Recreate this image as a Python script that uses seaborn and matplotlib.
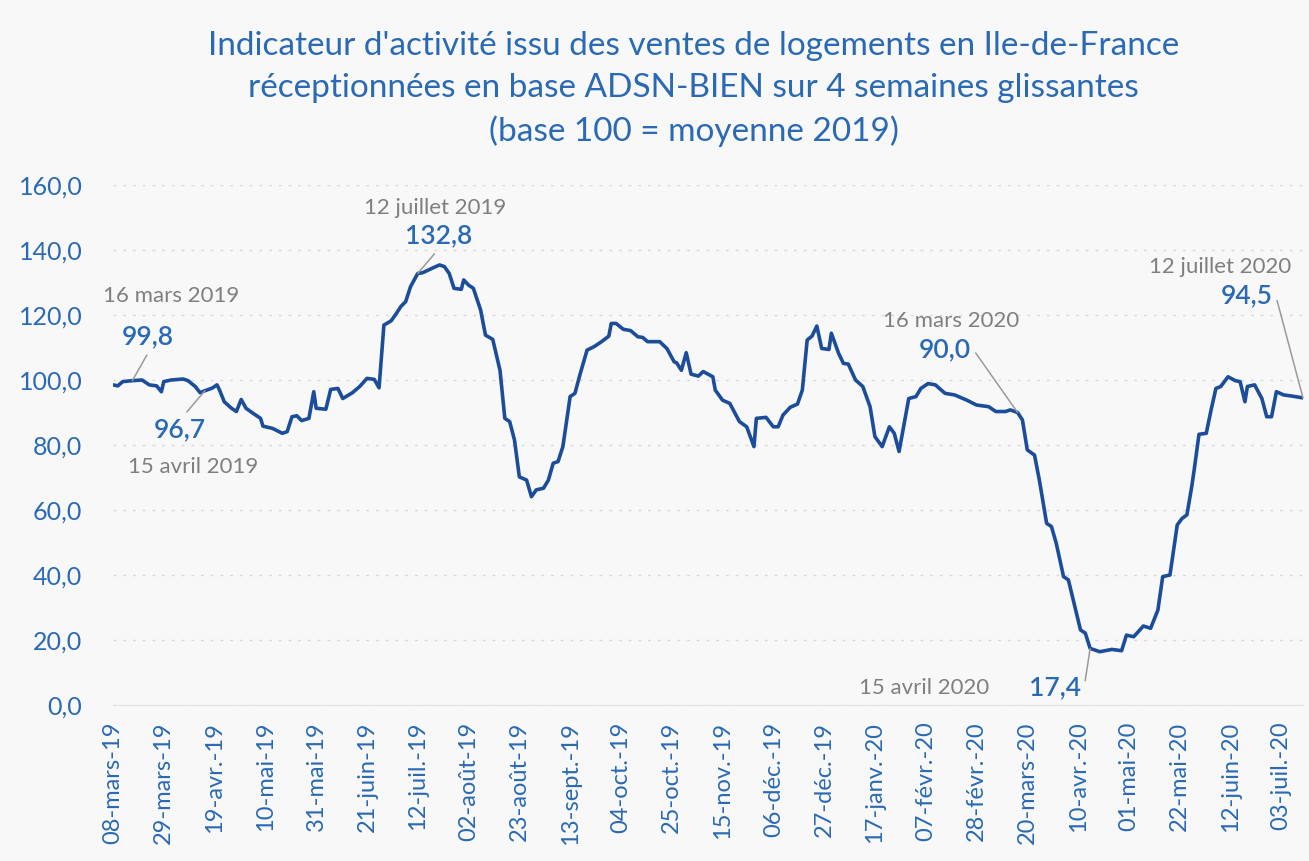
import matplotlib
matplotlib.use("Agg")
import matplotlib.pyplot as plt
import seaborn as sns
import pandas as pd
import numpy as np

# Données : jours écoulés depuis le 08-mars-19, indice base 100
debut = "2019-03-08"
jours = [0, 2, 4, 8, 12, 15, 18, 20, 21, 24, 29, 31, 34, 36, 38, 41, 43, 44, 46, 49,
         51, 53, 55, 58, 61, 62, 66, 70, 72, 74, 76, 78, 81, 83, 84, 88, 90, 93, 95, 99,
         102, 105, 108, 110, 112, 115, 117, 119, 121, 123, 126, 128, 132, 135, 137, 139,
         141, 144, 145, 147, 149, 152, 154, 157, 160, 162, 164, 166, 168, 171, 173, 175,
         178, 180, 182, 184, 186, 189, 191, 193, 196, 199, 202, 205, 206, 208, 211, 214,
         217, 219, 221, 226, 229, 232, 233, 235, 237, 239, 242, 244, 248, 249, 252, 255,
         259, 262, 265, 266, 270, 273, 275, 277, 280, 283, 285, 287, 289, 291, 293, 296,
         297, 300, 302, 304, 307, 310, 313, 315, 318, 321, 323, 325, 329, 332, 334, 337,
         340, 344, 348, 353, 357, 362, 365, 369, 371, 374, 376, 378, 381, 383, 386, 388,
         390, 393, 395, 397, 400, 402, 404, 408, 413, 417, 419, 422, 426, 429, 432, 434,
         437, 440, 442, 444, 446, 447, 449, 452, 454, 456, 458, 461, 464, 466, 468, 469,
         472, 475, 477, 479, 481, 484, 487, 492]
indice = [98.5, 98.2, 99.5, 99.8, 100.0, 98.5, 98.2, 96.4, 99.5, 100.0, 100.3, 99.8, 98.0, 96.1,
          96.7, 97.5, 98.5, 97.0, 93.3, 91.3, 90.3, 94.0, 91.3, 89.7, 88.2, 85.8, 85.1, 83.6,
          84.1, 88.7, 89.0, 87.5, 88.2, 96.4, 91.3, 91.0, 97.1, 97.4, 94.3, 96.1, 98.0, 100.5,
          100.2, 97.6, 116.9, 118.2, 120.3, 122.6, 124.1, 128.7, 132.8, 133.0, 134.4, 135.4,
          134.9, 132.8, 128.2, 127.9, 130.8, 129.2, 128.2, 121.5, 113.8, 112.5, 103.0, 88.2,
          87.2, 81.5, 70.2, 69.2, 64.1, 66.2, 66.7, 69.2, 74.4, 74.9, 79.5, 94.9, 95.9, 101.5,
          109.2, 110.3, 111.8, 113.5, 117.4, 117.4, 115.6, 115.2, 113.3, 113.1, 111.8, 111.8,
          109.7, 105.6, 105.3, 103.0, 108.4, 101.8, 101.2, 102.6, 101.0, 96.9, 93.8, 92.8,
          87.2, 85.6, 79.5, 88.2, 88.5, 85.6, 85.6, 89.2, 91.6, 92.6, 96.9, 112.3, 113.5,
          116.6, 109.7, 109.4, 114.4, 108.2, 105.1, 104.9, 100.0, 98.0, 91.8, 82.6, 79.5,
          85.6, 83.6, 78.0, 94.3, 94.9, 97.4, 98.9, 98.5, 95.9, 95.4, 93.8, 92.3, 91.8, 90.3,
          90.3, 90.8, 90.0, 87.7, 78.5, 76.9, 69.2, 55.9, 54.9, 49.7, 39.5, 38.5, 32.3, 23.1,
          22.1, 17.4, 16.4, 17.1, 16.7, 21.5, 21.0, 24.3, 23.6, 29.2, 39.5, 40.0, 55.4, 57.4,
          58.5, 67.2, 72.3, 83.3, 83.6, 90.8, 97.4, 98.0, 101.0, 99.8, 99.5, 93.3, 98.0, 98.5,
          94.3, 88.7, 88.7, 96.4, 95.4, 95.1, 94.5]

etiquettes_x = ["08-mars-19", "29-mars-19", "19-avr.-19", "10-mai-19", "31-mai-19",
                "21-juin-19", "12-juil.-19", "02-août-19", "23-août-19", "13-sept.-19",
                "04-oct.-19", "25-oct.-19", "15-nov.-19", "06-déc.-19", "27-déc.-19",
                "17-janv.-20", "07-févr.-20", "28-févr.-20", "20-mars-20", "10-avr.-20",
                "01-mai-20", "22-mai-20", "12-juin-20", "03-juil.-20"]
graduations_y = [0, 20, 40, 60, 80, 100, 120, 140, 160]

# points annotés : (jour, valeur, date affichée)
points_jours = [8, 38, 126, 374, 404, 492]
points_valeurs = [99.8, 96.7, 132.8, 90.0, 17.4, 94.5]
points_dates = ["16 mars 2019", "15 avril 2019", "12 juillet 2019",
                "16 mars 2020", "15 avril 2020", "12 juillet 2020"]

titre = ("Indicateur d'activité issu des ventes de logements en Ile-de-France\n"
         "réceptionnées en base ADSN-BIEN sur 4 semaines glissantes\n"
         "(base 100 = moyenne 2019)")

BLEU_TXT = "#2a6ab4"
BLEU_LIGNE = "#1c4d9a"
GRIS = "#7f7f7f"
FOND = "#f8f8f8"

sns.set_style("white")
plt.rcParams["font.family"] = ["Lato", "DejaVu Sans"]

t0 = pd.Timestamp(debut)
df = pd.DataFrame({"date": t0 + pd.to_timedelta(jours, unit="D"), "indice": indice})

fig = plt.figure(figsize=(13.09, 8.61), dpi=100, facecolor=FOND)
ax = fig.add_axes([113 / 1309, 1 - 705 / 861, 1190 / 1309, 520 / 861], facecolor=FOND)

sns.lineplot(data=df, x="date", y="indice", ax=ax, color=BLEU_LIGNE, linewidth=2.6)

ax.set_xlim(t0, t0 + pd.Timedelta(days=492))
ax.set_ylim(0, 160)
ticks = pd.date_range(debut, periods=len(etiquettes_x), freq="21D")
ax.set_xticks(ticks)
ax.set_xticklabels(etiquettes_x, rotation=90, fontsize=17, color=BLEU_TXT)
ax.set_yticks(graduations_y)
ax.set_yticklabels([f"{v:.1f}".replace(".", ",") for v in graduations_y],
                   fontsize=18, color=BLEU_TXT)
ax.tick_params(axis="y", length=0, pad=22)
ax.tick_params(axis="x", length=5, color="#e0e0e0", pad=7)
ax.set_xlabel("")
ax.set_ylabel("")
for s in ["top", "right", "left"]:
    ax.spines[s].set_visible(False)
ax.spines["bottom"].set_color("#e2e2e2")
ax.grid(axis="y", linestyle=(0, (2, 5)), color="#d9d9d9", linewidth=1)
ax.set_axisbelow(True)

# annotations : position du texte en fraction d'axe
pos_dates = [(0.049, 0.787), (0.067, 0.458), (0.271, 0.956),
             (0.704, 0.738), (0.682, 0.033), (0.930, 0.842)]
pos_valeurs = [(0.029, 0.708), (0.056, 0.529), (0.274, 0.902),
               (0.699, 0.683), (0.792, 0.033), (0.953, 0.788)]
rel = [(0.55, 0.0), (0.55, 1.0), (0.5, 0.0), (1.05, 0.5), (1.05, 0.5), (1.05, 0.5)]

for j, v, lab, pd_, pv, rp in zip(points_jours, points_valeurs, points_dates,
                                  pos_dates, pos_valeurs, rel):
    x = t0 + pd.Timedelta(days=j)
    ax.text(pd_[0], pd_[1], lab, transform=ax.transAxes, ha="center", va="center",
            fontsize=16, color=GRIS)
    ax.annotate(f"{v:.1f}".replace(".", ","), xy=(x, v), xycoords="data",
                xytext=pv, textcoords="axes fraction", ha="center", va="center",
                fontsize=19, color=BLEU_TXT, fontweight="semibold",
                arrowprops=dict(arrowstyle="-", color="#9a9a9a", lw=1.1,
                                shrinkA=2, shrinkB=0, relpos=rp))

fig.text(0.530, 0.964, titre, ha="center", va="top", fontsize=24,
         color=BLEU_TXT, linespacing=1.5)

fig.savefig("out.png", dpi=100, facecolor=FOND)
